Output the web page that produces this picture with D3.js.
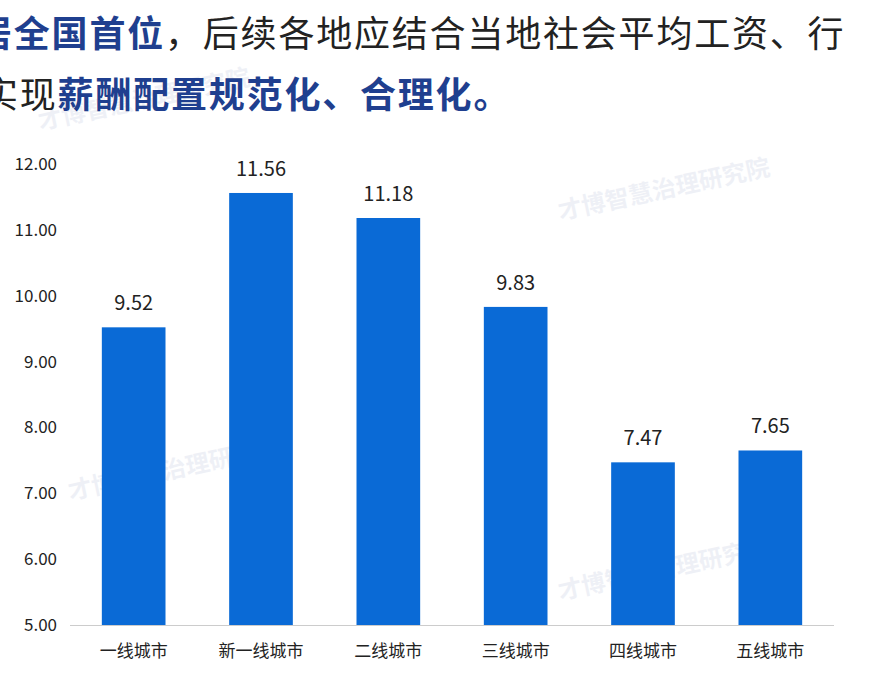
<!DOCTYPE html><html><head><meta charset="utf-8"><script src="https://cdn.jsdelivr.net/npm/d3@7"></script>
<style>body{margin:0;background:#fff}</style></head><body><svg id="c" width="880" height="678"></svg>
<script>
const categories=["一线城市","新一线城市","二线城市","三线城市","四线城市","五线城市"];
const values=[9.52,11.56,11.18,9.83,7.47,7.65];
const yTicks=[5,6,7,8,9,10,11,12];
const svg=d3.select("#c");
const F="'Noto Sans CJK SC','Noto Sans',sans-serif";
const t1=svg.append("text").attr("x",-24).attr("y",47).attr("font-family",F).attr("font-size",36).attr("letter-spacing",1.8);
t1.append("tspan").attr("fill","#1f3f8f").attr("font-weight","bold").text("居全国首位");
t1.append("tspan").attr("fill","#222").text("，后续各地应结合当地社会平均工资、行");
const t2=svg.append("text").attr("x",-18).attr("y",108).attr("font-family",F).attr("font-size",36).attr("letter-spacing",1.8);
t2.append("tspan").attr("fill","#222").text("实现");
t2.append("tspan").attr("fill","#1f3f8f").attr("font-weight","bold").text("薪酬配置规范化、合理化。");
[[40,130],[70,500],[560,220],[560,600]].forEach(([x,y])=>{
 svg.append("text").attr("x",x).attr("y",y).attr("transform",`rotate(-12,${x},${y})`).attr("font-family",F).attr("font-size",24).attr("font-weight","bold").attr("fill","#1f3f8f").attr("opacity",0.07).text("才博智慧治理研究院");
});
const x=d3.scaleBand().domain(categories).range([70,834]).paddingInner(0.5).paddingOuter(0.25);
const y=d3.scaleLinear().domain([5,12]).range([625,164]);
const yAx=svg.append("g").attr("transform","translate(60,0)").call(d3.axisLeft(y).tickValues(yTicks).tickFormat(d3.format(".2f")).tickSize(0));
yAx.select(".domain").remove();
yAx.selectAll("text").attr("font-family",F).attr("font-size",17).attr("fill","#222");
svg.append("line").attr("x1",70).attr("x2",834).attr("y1",625.5).attr("y2",625.5).attr("stroke","#ccc");
svg.selectAll("rect.b").data(values).join("rect").attr("x",(d,i)=>x(categories[i])).attr("width",x.bandwidth())
 .attr("y",d=>y(d)).attr("height",d=>y(5)-y(d)).attr("fill","#0a6ad6");
svg.selectAll("text.v").data(values).join("text").attr("x",(d,i)=>x(categories[i])+x.bandwidth()/2).attr("y",d=>y(d)-17)
 .attr("text-anchor","middle").attr("font-family",F).attr("font-size",20).attr("fill","#222").text(d=>d.toFixed(2));
svg.selectAll("text.c").data(categories).join("text").attr("x",d=>x(d)+x.bandwidth()/2).attr("y",657)
 .attr("text-anchor","middle").attr("font-family",F).attr("font-size",17).attr("fill","#222").text(d=>d);
</script></body></html>
